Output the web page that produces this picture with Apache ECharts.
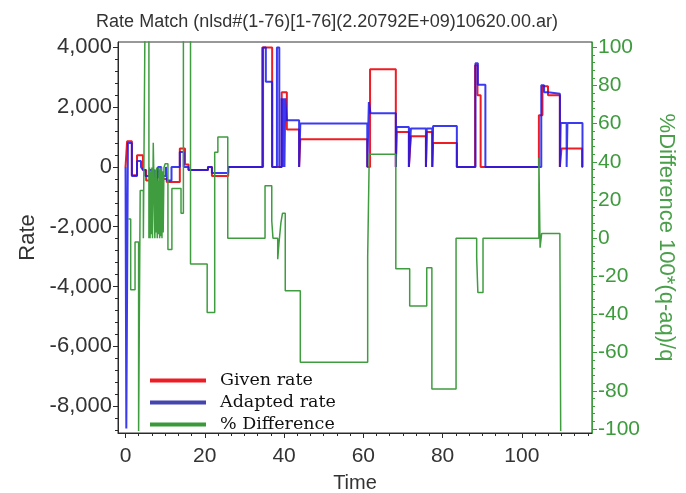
<!DOCTYPE html>
<html>
<head>
<meta charset="utf-8">
<script src="https://cdn.jsdelivr.net/npm/echarts@6/dist/echarts.min.js"></script>
<style>
  html, body { margin: 0; padding: 0; background: #fff; }
  #chart { width: 686px; height: 493px; }
</style>
</head>
<body>
<div id="chart"></div>
<script>
// Given rate: each point starts a new step level (time, rate)
const givenTime = [0, 0.4, 1.6, 2.9, 4.4, 5.2, 6.2, 7.0, 8.0, 8.8, 10.4, 13.7, 15.0, 15.9, 20.8, 21.8, 25.9,
  34.5, 37.0, 39.4, 40.7, 43.8, 44.1, 61.0, 61.7, 68.2, 68.4, 71.5, 72.0, 75.8, 76.0, 77.4, 77.6, 83.6,
  88.2, 88.8, 89.6, 104.3, 105.2, 106.6, 109.6, 110.0, 115.2, 115.4];
const givenRate = [0, 860, -280, 390, -100, -450, -200, -450, -150, -400, -500, 620, 80, -100, 0, -300, 0,
  4000, 0, 2500, 1250, 0, 925, 0, 3270, 0, 1170, 0, 1030, 0, 1170, 0, 800, 0,
  3400, 2400, 0, 1730, 2700, 2400, 0, 620, 0, 0];

// Adapted rate
const adaptedTime = [0, 0.2, 0.6, 1.6, 2.9, 3.9, 4.4, 5.0, 6.0, 7.2, 8.2, 9.0, 10.2, 10.5, 11.6, 13.7, 14.7, 15.9,
  20.8, 21.8, 25.9, 34.7, 35.4, 37.0, 38.2, 38.8, 39.4, 39.7, 39.9, 40.1, 40.3, 40.7, 43.8, 44.1,
  61.0, 61.4, 61.8, 68.2, 68.4, 71.5, 72.0, 75.8, 76.0, 77.4, 77.6, 83.6, 88.3, 88.9, 90.8,
  104.9, 105.6, 106.6, 109.6, 109.8, 111.3, 111.5, 115.3, 115.4];
const adaptedRate = [0, -8750, 800, -300, 200, 0, -100, -300, -100, -350, 0, -300, 0, -450, 0, 500, 0, -100,
  0, -200, 0, 4000, 2850, 0, 4000, 0, 2300, 0, 2300, 0, 2300, 1560, 0, 1450,
  0, 2170, 1800, 0, 1340, 0, 1290, 0, 1290, 0, 1370, 0, 3470, 2750, 0,
  2730, 2500, 2450, 0, 1470, 0, 1470, 0, 0];

// % Difference 100*(q-aq)/q — start-up period (0 to 12)
const diffTimeEarly = [0.7, 1.3, 2.4, 3.3, 3.7, 4.5, 4.9, 5.9, 6.05, 6.2,
  6.35, 6.5, 6.65, 6.8, 7.0, 7.4, 7.55, 7.7, 7.85, 8.0,
  8.15, 8.3, 8.45, 8.6, 8.75, 8.9, 9.05, 9.2, 9.35, 9.5,
  9.7, 10.0, 10.7, 11.7];
const diffPctEarly = [10, -27, -2, -101, 25, 0, 110, 0, 37, 0,
  35, 2, 37, 0, 50, 0, 36, 3, 37, 0,
  30, 2, 37, 0, 36, 1, 37, 0, 35, 3,
  37, 39, -6, 26];
// % Difference — remainder of the run
const diffTimeLate = [14.0, 14.6, 16.4, 20.6, 22.5, 23.3, 25.8, 35.2, 36.9, 37.2,
  38.4, 38.7, 39.2, 39.6, 40.3, 44.1, 61.1, 61.5, 68.2, 71.7,
  76.0, 77.3, 83.4, 88.6, 88.9, 90.2, 104.3, 104.6, 105.0, 109.6,
  109.8];
const diffPctLate = [13, 110, -13.5, -39, 45, 53, 0, 27.5, 9, 0,
  -11, -3, 8, 13, -27.5, -65, -10, 44, -16, -35.5,
  -15.5, -79, 0, -10, -28.5, 0, 42, -5, 2.5, -1,
  -101];

// Axis ticks
const timeTicks = [0, 20, 40, 60, 80, 100];
const rateTicks = [-8000, -6000, -4000, -2000, 0, 2000, 4000];
const pctTicks = [-100, -80, -60, -40, -20, 0, 20, 40, 60, 80, 100];

function minorTicks(major, parts, lo, hi) {
  const step = (major[1] - major[0]) / parts;
  const out = [];
  for (let v = major[0] - step * parts; v <= hi + 1e-9; v += step) {
    const r = Math.round(v * 1000) / 1000;
    if (r >= lo && major.indexOf(r) < 0) out.push(r);
  }
  return out;
}

const xMin = -1.9, xMax = 117.7;
const rMin = -8900, rMax = 4180;
const pMin = -102.1, pMax = 102.8;

const timeMinor = minorTicks(timeTicks, 6, xMin, xMax);
const rateMinor = minorTicks(rateTicks, 5, rMin, rMax);
const pctMinor = minorTicks(pctTicks, 5, pMin, pMax);

const pairs = (xs, ys) => xs.map((x, i) => [x, ys[i]]);
const diffData = pairs(diffTimeEarly, diffPctEarly).concat(pairs(diffTimeLate, diffPctLate));

const ink = '#2a2a2a';
const green = '#3f9c3f';
const sans = 'Liberation Sans, Arial, sans-serif';

const chart = echarts.init(document.getElementById('chart'), null, { renderer: 'canvas' });

chart.setOption({
  animation: false,
  backgroundColor: '#fff',
  title: {
    text: 'Rate Match (nlsd#(1-76)[1-76](2.20792E+09)10620.00.ar)',
    left: 322, top: 8, textAlign: 'center',
    textStyle: { fontFamily: sans, fontSize: 18, fontWeight: 'normal', color: '#333' }
  },
  grid: {
    left: 118, top: 42, right: 94, bottom: 60,
    outerBoundsMode: 'none', containLabel: false,
    show: true, borderColor: '#333', borderWidth: 1, backgroundColor: 'transparent'
  },
  legend: {
    orient: 'vertical', left: 145, top: 366,
    itemWidth: 56, itemHeight: 4, itemGap: 3, icon: 'rect',
    textStyle: { fontFamily: 'DejaVu Serif, Liberation Serif, serif', fontSize: 17.5, color: '#111', lineHeight: 19, padding: [0, 0, 0, 9] },
    data: ['Given rate', 'Adapted rate', '% Difference']
  },
  xAxis: [
    {
      type: 'value', min: xMin, max: xMax, position: 'bottom',
      name: 'Time', nameLocation: 'middle', nameGap: 40,
      nameTextStyle: { fontFamily: sans, fontSize: 20, color: '#333' },
      axisLine: { show: true, onZero: false, lineStyle: { color: ink, width: 1 } },
      axisTick: { show: true, customValues: timeTicks, length: 5, lineStyle: { color: ink } },
      axisLabel: { customValues: timeTicks, fontFamily: sans, fontSize: 21, color: '#333', margin: 13 },
      splitLine: { show: false }
    },
    {
      type: 'value', min: xMin, max: xMax, position: 'bottom',
      axisLine: { show: false, onZero: false },
      axisTick: { show: true, customValues: timeMinor, length: 3, lineStyle: { color: ink } },
      axisLabel: { show: false }, splitLine: { show: false }
    }
  ],
  yAxis: [
    {
      type: 'value', min: rMin, max: rMax, position: 'left',
      name: 'Rate', nameLocation: 'middle', nameGap: 79, nameRotate: 90,
      nameTextStyle: { fontFamily: sans, fontSize: 22, color: '#333' },
      axisLine: { show: true, onZero: false, lineStyle: { color: ink, width: 1 } },
      axisTick: { show: true, customValues: rateTicks, length: 5, lineStyle: { color: ink } },
      axisLabel: {
        customValues: rateTicks, fontFamily: sans, fontSize: 22, color: '#333', margin: 6,
        formatter: v => v.toLocaleString('en-US')
      },
      splitLine: { show: false }
    },
    {
      type: 'value', min: rMin, max: rMax, position: 'left',
      axisLine: { show: false, onZero: false },
      axisTick: { show: true, customValues: rateMinor, length: 3, lineStyle: { color: ink } },
      axisLabel: { show: false }, splitLine: { show: false }
    },
    {
      type: 'value', min: pMin, max: pMax, position: 'right',
      name: '%Difference 100*(q-aq)/q', nameLocation: 'middle', nameGap: 63, nameRotate: -90,
      nameTextStyle: { fontFamily: sans, fontSize: 22, color: '#4a9f4a' },
      axisLine: { show: true, onZero: false, lineStyle: { color: green, width: 1 } },
      axisTick: { show: true, customValues: pctTicks, length: 5, lineStyle: { color: green } },
      axisLabel: { customValues: pctTicks, fontFamily: sans, fontSize: 21, color: '#3d9a3d', margin: 6 },
      splitLine: { show: false }
    },
    {
      type: 'value', min: pMin, max: pMax, position: 'right',
      axisLine: { show: false, onZero: false },
      axisTick: { show: true, customValues: pctMinor, length: 3, lineStyle: { color: green } },
      axisLabel: { show: false }, splitLine: { show: false }
    }
  ],
  series: [
    {
      name: 'Given rate', type: 'line', step: 'end', xAxisIndex: 0, yAxisIndex: 0,
      data: pairs(givenTime, givenRate), showSymbol: false, symbol: 'none',
      lineStyle: { color: '#ee1c24', width: 2 }, itemStyle: { color: '#ee1c24' }, z: 2
    },
    {
      name: 'Adapted rate', type: 'line', step: 'end', xAxisIndex: 0, yAxisIndex: 0,
      data: pairs(adaptedTime, adaptedRate), showSymbol: false, symbol: 'none',
      lineStyle: { color: '#1818ee', width: 2, opacity: 0.85 }, itemStyle: { color: '#4545b0' }, z: 3
    },
    {
      name: '% Difference', type: 'line', step: 'end', xAxisIndex: 0, yAxisIndex: 2,
      data: diffData, showSymbol: false, symbol: 'none',
      lineStyle: { color: green, width: 1.5 }, itemStyle: { color: '#3a9a3a' }, z: 4
    }
  ]
});
</script>
</body>
</html>
